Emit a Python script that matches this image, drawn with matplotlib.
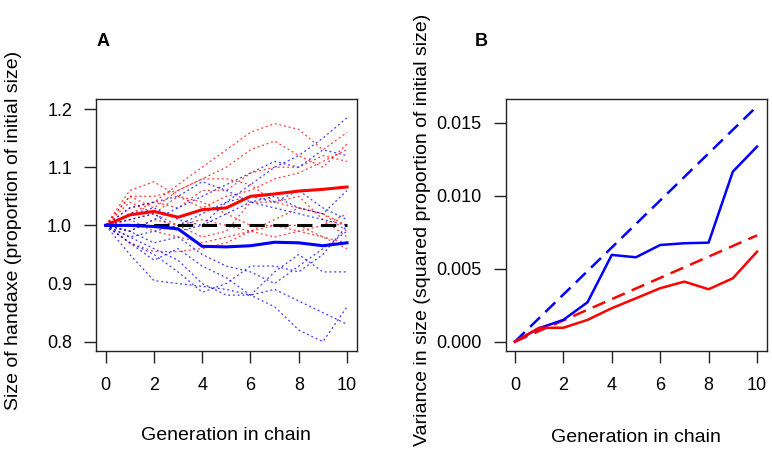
import matplotlib
matplotlib.use("Agg")
import matplotlib.pyplot as plt
import numpy as np

plt.rcParams['font.family'] = ['Liberation Sans', 'DejaVu Sans']

# --- data ---
generation = [0, 1, 2, 3, 4, 5, 6, 7, 8, 9, 10]

# panel A: individual chains (dotted)
red_chains = [
    [1.0, 1.03, 1.04, 1.07, 1.10, 1.13, 1.16, 1.175, 1.165, 1.13, 1.16],
    [1.0, 1.05, 1.03, 1.06, 1.08, 1.10, 1.13, 1.145, 1.12, 1.10, 1.14],
    [1.0, 1.06, 1.075, 1.05, 1.04, 1.02, 1.00, 1.00, 0.99, 0.98, 0.97],
    [1.0, 1.05, 1.05, 1.06, 1.08, 1.08, 1.07, 1.04, 1.03, 1.02, 1.00],
    [1.0, 0.97, 0.955, 0.955, 0.96, 0.97, 0.99, 1.00, 1.00, 0.98, 0.96],
    [1.0, 1.02, 1.04, 1.03, 1.06, 1.06, 1.09, 1.10, 1.10, 1.12, 1.11],
    [1.0, 1.01, 0.99, 0.98, 0.97, 0.98, 0.99, 1.01, 1.03, 1.02, 0.99],
    [1.0, 0.99, 1.01, 1.00, 0.98, 0.99, 1.04, 1.04, 1.05, 1.01, 0.98],
    [1.0, 1.04, 1.02, 1.05, 1.03, 1.05, 1.06, 1.08, 1.09, 1.11, 1.13],
    [1.0, 1.01, 1.02, 1.00, 1.01, 1.00, 0.99, 0.98, 0.99, 1.00, 1.02],
]
blue_chains = [
    [1.0, 0.98, 0.99, 1.00, 1.02, 1.04, 1.07, 1.10, 1.12, 1.15, 1.185],
    [1.0, 1.03, 1.04, 1.05, 1.075, 1.06, 1.04, 1.03, 1.02, 1.01, 1.00],
    [1.0, 0.99, 1.01, 1.03, 1.05, 1.07, 1.09, 1.11, 1.10, 1.13, 1.12],
    [1.0, 0.95, 0.905, 0.90, 0.895, 0.89, 0.88, 0.92, 0.95, 0.92, 0.92],
    [1.0, 0.97, 0.95, 0.92, 0.885, 0.90, 0.93, 0.93, 0.92, 0.95, 1.00],
    [1.0, 0.97, 0.94, 0.96, 0.93, 0.91, 0.88, 0.86, 0.82, 0.80, 0.86],
    [1.0, 0.98, 0.96, 0.94, 0.90, 0.88, 0.88, 0.89, 0.87, 0.85, 0.83],
    [1.0, 1.02, 1.03, 1.01, 1.00, 1.04, 1.05, 1.04, 1.06, 1.03, 1.01],
    [1.0, 0.99, 0.97, 0.98, 0.95, 0.93, 0.92, 0.90, 0.93, 0.96, 0.99],
    [1.0, 1.01, 1.02, 0.99, 1.00, 1.02, 1.04, 1.05, 1.03, 1.02, 1.06],
]
# panel A: means
red_mean = [1.0, 1.018, 1.024, 1.014, 1.027, 1.030, 1.050, 1.054, 1.059, 1.062, 1.066]
blue_mean = [1.0, 1.0, 0.998, 0.994, 0.964, 0.963, 0.965, 0.971, 0.970, 0.965, 0.970]
neutral = [1.0] * 11

# panel B: variance, observed and expected
blue_var = [0.0, 0.00092, 0.00149, 0.0027, 0.00594, 0.00578, 0.00662, 0.00674, 0.00678, 0.01164, 0.01336]
red_var = [0.0, 0.00095, 0.00095, 0.00149, 0.00229, 0.00297, 0.00366, 0.00411, 0.00359, 0.00434, 0.00616]
blue_expected = [0.0, 0.01612]
red_expected = [0.0, 0.00728]
expected_x = [0, 10]

# --- figure ---
W, H = 772, 454
fig = plt.figure(figsize=(W / 100, H / 100), dpi=100)

def box(l, t, r, b):
    return [l / W, 1 - b / H, (r - l) / W, (b - t) / H]

axA = fig.add_axes(box(96, 99, 356.7, 350.7))
axB = fig.add_axes(box(505.7, 99, 766.7, 350.7))

for ch in red_chains:
    axA.plot(generation, ch, color="#ff0000", lw=0.9, dashes=(1.6, 2.2), alpha=0.75)
for ch in blue_chains:
    axA.plot(generation, ch, color="#0000ff", lw=0.9, dashes=(1.6, 2.2), alpha=0.75)
axA.plot(generation, neutral, color="black", lw=2.2, dashes=(5, 2.8))
axA.plot(generation, red_mean, color="#ff0000", lw=2.2)
axA.plot(generation, blue_mean, color="#0000ff", lw=2.2)

axA.set_xlim(-0.4, 10.4)
axA.set_ylim(0.7845, 1.2173)
axA.set_yticks([0.8, 0.9, 1.0, 1.1, 1.2])
axA.set_yticklabels(["0.8", "0.9", "1.0", "1.1", "1.2"])

axB.plot(expected_x, blue_expected, color="#0000ff", lw=1.8, dashes=(5.5, 3))
axB.plot(expected_x, red_expected, color="#ff0000", lw=1.8, dashes=(5.5, 3))
axB.plot(generation, blue_var, color="#0000ff", lw=1.8)
axB.plot(generation, red_var, color="#ff0000", lw=1.8)

axB.set_xlim(-0.38, 10.4)
axB.set_ylim(-0.00062, 0.01662)
axB.set_yticks([0.0, 0.005, 0.010, 0.015])
axB.set_yticklabels(["0.000", "0.005", "0.010", "0.015"])

for ax in (axA, axB):
    ax.set_xticks([0, 2, 4, 6, 8, 10])
    ax.tick_params(direction="out", length=8.6, width=1, labelsize=13, color="#222222")
    ax.tick_params(axis="y", pad=8.6)
    ax.tick_params(axis="x", pad=10)
    for s in ax.spines.values():
        s.set_linewidth(1)
        s.set_color("#222222")

fig.text(103.5 / W, 1 - 41 / H, "A", fontsize=13, fontweight="bold", ha="center", va="center")
fig.text(481 / W, 1 - 41 / H, "B", fontsize=13, fontweight="bold", ha="center", va="center")
fig.text(226 / W, 1 - 436 / H, "Generation in chain", fontsize=14, ha="center", va="center")
fig.text(636 / W, 1 - 438 / H, "Generation in chain", fontsize=14, ha="center", va="center")
fig.text(14 / W, 1 - 230 / H, "Size of handaxe (proportion of initial size)", fontsize=14,
         rotation=90, ha="center", va="center")
fig.text(423 / W, 1 - 230 / H, "Variance in size (squared proportion of initial size)", fontsize=14,
         rotation=90, ha="center", va="center")

fig.savefig("out.png", dpi=100)
